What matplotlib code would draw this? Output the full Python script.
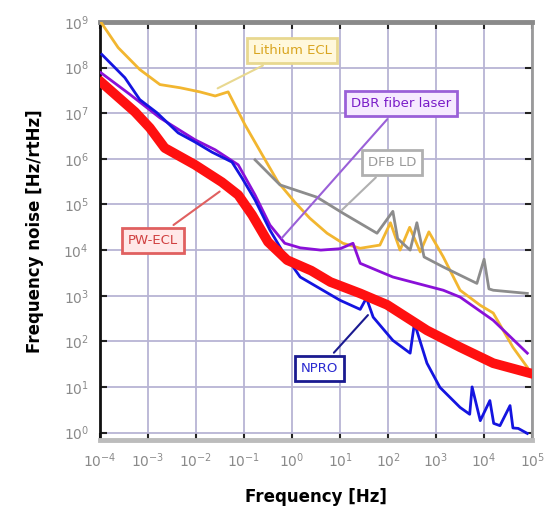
import numpy as np
import matplotlib
matplotlib.use('Agg')
import matplotlib.pyplot as plt

# Curvas (log10 de frecuencia, log10 de ruido)
pw_ecl_lf = [-3.96, -3.27, -2.96, -2.65, -2.02, -1.46, -1.12, -0.83, -0.50, -0.10,
             0.40, 0.80, 1.42, 1.98, 2.81, 3.50, 4.19, 4.96]
pw_ecl_ln = [7.67, 7.03, 6.68, 6.24, 5.87, 5.49, 5.21, 4.77, 4.18, 3.78,
             3.55, 3.30, 3.05, 2.80, 2.24, 1.87, 1.52, 1.30]

npro_lf = [-3.96, -3.48, -3.17, -2.81, -2.37, -2.02, -1.67, -1.25, -1.04, -0.77,
           -0.46, -0.15, 0.17, 1.00, 1.42, 1.55, 1.69, 2.10, 2.46, 2.55, 2.81,
           3.08, 3.50, 3.70, 3.75, 3.92, 4.12, 4.20, 4.33, 4.54, 4.60, 4.71, 4.90]
npro_ln = [8.29, 7.78, 7.30, 7.01, 6.57, 6.37, 6.15, 5.93, 5.58, 5.10,
           4.44, 3.89, 3.41, 2.90, 2.70, 2.95, 2.53, 2.02, 1.74, 2.40, 1.52,
           0.99, 0.55, 0.40, 1.00, 0.26, 0.70, 0.20, 0.15, 0.59, 0.10, 0.09, -0.02]

dbr_lf = [-3.98, -3.37, -2.75, -2.02, -1.60, -1.12, -0.77, -0.46, -0.15, 0.17,
          0.60, 1.00, 1.27, 1.42, 2.10, 3.15, 3.50, 4.19, 4.90]
dbr_ln = [7.89, 7.41, 6.90, 6.42, 6.20, 5.87, 5.21, 4.55, 4.15, 4.05,
          4.00, 4.03, 4.15, 3.71, 3.41, 3.12, 2.97, 2.46, 1.74]

lith_lf = [-3.98, -3.62, -3.17, -2.75, -2.33, -1.92, -1.60, -1.33, -0.98, -0.62,
           -0.29, 0.06, 0.37, 0.73, 1.06, 1.42, 1.83, 2.05, 2.25, 2.45, 2.67,
           2.85, 3.15, 3.50, 3.92, 4.19, 4.60, 4.90]
lith_ln = [9.00, 8.44, 7.96, 7.63, 7.56, 7.47, 7.38, 7.47, 6.75, 6.09,
           5.49, 5.05, 4.70, 4.37, 4.15, 4.04, 4.11, 4.60, 4.00, 4.50, 3.96,
           4.40, 3.85, 3.12, 2.79, 2.62, 1.87, 1.43]

dfb_lf = [-0.77, -0.25, 0.52, 1.06, 1.77, 2.10, 2.20, 2.46, 2.60, 2.75, 3.15,
          3.85, 4.00, 4.10, 4.19, 4.90]
dfb_ln = [5.98, 5.43, 5.16, 4.81, 4.37, 4.85, 4.25, 4.00, 4.60, 3.85, 3.63,
          3.27, 3.80, 3.15, 3.12, 3.05]

fig, ax = plt.subplots(figsize=(5.52, 5.26), dpi=100)
fig.subplots_adjust(left=0.181, right=0.964, top=0.958, bottom=0.163)

ax.loglog(10**np.array(lith_lf), 10**np.array(lith_ln), color='#f2b630', lw=2.0, zorder=3)
ax.loglog(10**np.array(dfb_lf), 10**np.array(dfb_ln), color='#8c8c8c', lw=2.0, zorder=3)
ax.loglog(10**np.array(dbr_lf), 10**np.array(dbr_ln), color='#8a10d8', lw=2.0, zorder=4)
ax.loglog(10**np.array(npro_lf), 10**np.array(npro_ln), color='#1414e0', lw=2.0, zorder=4)
ax.loglog(10**np.array(pw_ecl_lf), 10**np.array(pw_ecl_ln), color='#ff1010', lw=7, zorder=5)

ax.set_xlim(1e-4, 1e5)
ax.set_ylim(10**-0.17, 1e9)
ax.set_xticks([10.0**k for k in range(-4, 6)])
ax.set_yticks([10.0**k for k in range(0, 10)])
ax.minorticks_off()
ax.grid(True, color='#b8b4d4', lw=1.3)
ax.set_axisbelow(True)
ax.tick_params(direction='in', length=5, width=1.5, colors='#222222',
               labelcolor='#8a8a8a', labelsize=10, top=True, right=True, pad=8)

ax.spines['top'].set_color('#8a8a8a')
ax.spines['top'].set_linewidth(3.5)
ax.spines['bottom'].set_color('#bcbcbc')
ax.spines['bottom'].set_linewidth(3.5)
ax.spines['left'].set_color('#111111')
ax.spines['left'].set_linewidth(2)
ax.spines['right'].set_color('#9a9a9a')
ax.spines['right'].set_linewidth(2)

ax.set_xlabel('Frequency [Hz]', fontsize=12, fontweight='bold', labelpad=13)
ax.set_ylabel('Frequency noise [Hz/rtHz]', fontsize=12, fontweight='bold', labelpad=14)

# Etiquetas con recuadro y linea indicadora
etiquetas = [
    ('Lithium ECL', (10**0.0, 10**8.37), (10**-1.6, 10**7.52), '#d9a520', '#e8d890', '#fff8dc'),
    ('DBR fiber laser', (10**2.27, 10**7.21), (10**-0.25, 10**4.22), '#7a1cc8', '#9a60d8', '#f6eaff'),
    ('DFB LD', (10**2.08, 10**5.93), (10**1.0, 10**4.84), '#9a9a9a', '#b0b0b0', 'white'),
    ('PW-ECL', (10**-2.9, 10**4.22), (10**-1.46, 10**5.32), '#d04040', '#e06060', '#ffe8e8'),
    ('NPRO', (10**0.58, 10**1.41), (10**1.62, 10**2.62), '#2a2ad0', '#1a1a90', 'white'),
]
for texto, pos, punta, ctexto, cborde, cfondo in etiquetas:
    ax.annotate(texto, xy=punta, xytext=pos, ha='center', va='center',
                fontsize=9.5, color=ctexto, zorder=6,
                bbox=dict(boxstyle='square,pad=0.45', fc=cfondo, ec=cborde, lw=2),
                arrowprops=dict(arrowstyle='-', color=cborde, lw=1.5))

plt.savefig('out.png', dpi=100)
